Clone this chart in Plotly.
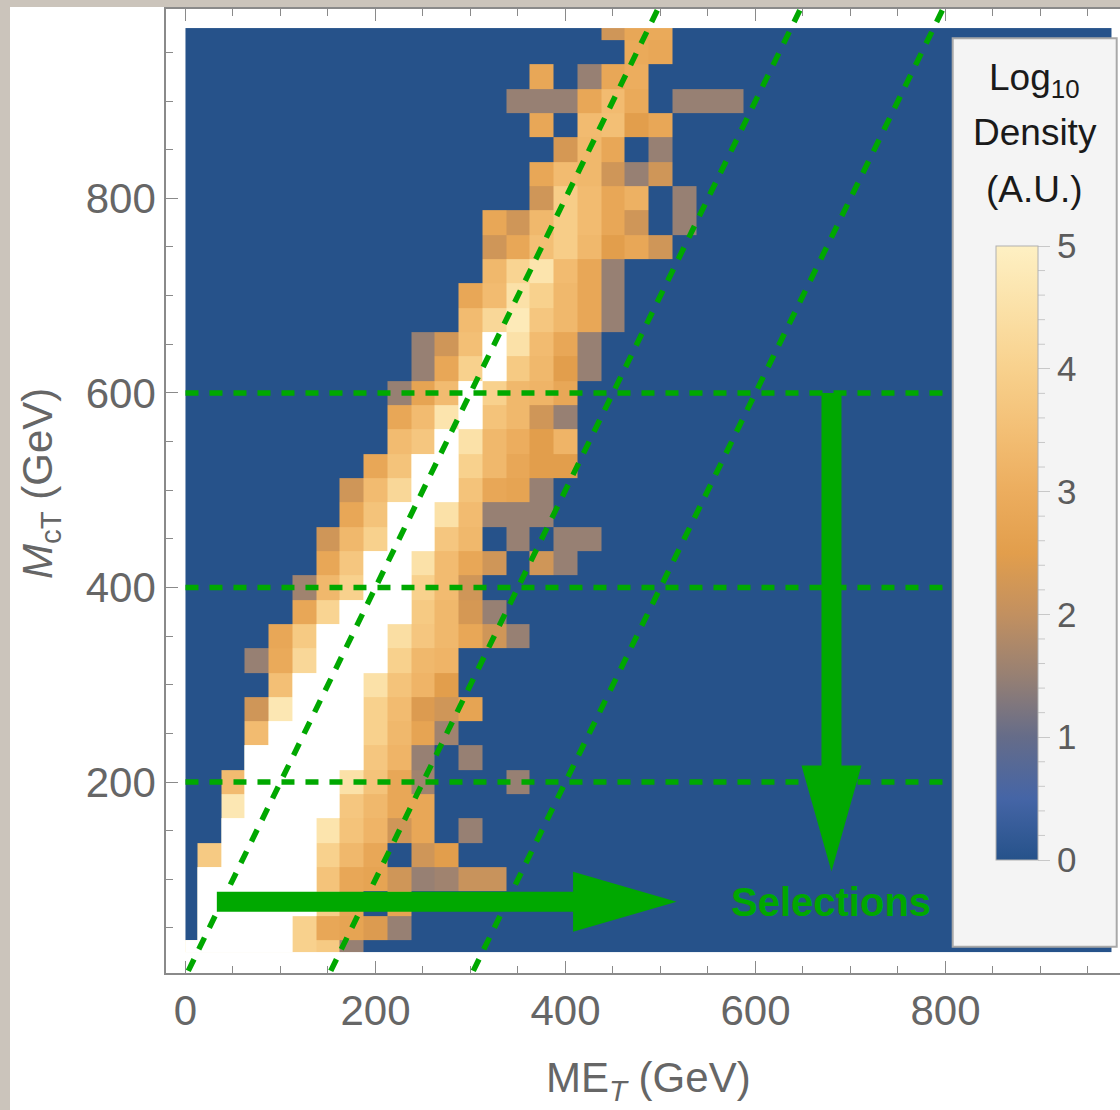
import plotly.graph_objects as go

# ---------------- data ----------------
BIN_WIDTH = 25
MET_BIN_CENTERS = list(range(0, 1000, BIN_WIDTH))    # 0 ... 975 GeV
MCT_BIN_CENTERS = list(range(25, 1000, BIN_WIDTH))   # 25 ... 975 GeV

SATURATED = 5.5  # log10 density above the colour scale (drawn white)
S = SATURATED

# first MET bin index of each MCT row (rows ordered from MCT=25 upward)
ROW_FIRST_BIN = [0, 1, 1, 1, 1, 2, 2, 2, 3, 3,
                 3, 4, 3, 4, 5, 5, 6, 6, 7, 7,
                 8, 9, 9, 9, 10, 10, 12, 12, 13, 13,
                 13, 15, 15, 16, 15, 14, 15, 19, 18]

ROW_LOG_DENSITY = [
    [S, S, S, S, S, 4.0, 3.8, 1.5],                                 # 25
    [S, S, S, S, 4.0, 2.8, 2.7, 2.4, 1.5],                          # 50
    [S, S, S, S, S, 3.9, 2.8, 0, 2.7],                              # 75
    [S, S, S, S, S, 3.6, 2.8, 2.7, 2.2, 1.5, 1.6, 2.1, 2.1],        # 100
    [3.8, S, S, S, S, 4.0, 3.3, 2.8, 0, 2.2, 2.5],                  # 125
    [S, S, S, S, 4.6, 3.6, 3.2, 2.2, 2.8, 0, 1.5],                  # 150
    [4.7, S, S, S, S, 3.7, 3.3, 2.8, 2.8],                          # 175
    [3.4, S, S, S, S, 4.5, 3.6, 2.8, 1.6, 0, 0, 0, 1.5],            # 200
    [S, S, S, S, S, 3.7, 3.2, 1.5, 0, 1.5],                         # 225
    [3.4, S, S, S, S, 4.0, 3.3, 2.7, 1.6],                          # 250
    [2.2, 4.7, S, S, S, 4.0, 3.4, 2.4, 2.2, 2.7],                   # 275
    [3.5, S, S, S, 4.5, 3.6, 3.2, 2.5],                             # 300
    [1.5, 2.9, 4.2, S, S, S, 4.0, 3.3, 3.2],                        # 325
    [2.8, 3.8, S, S, S, 4.4, 3.7, 3.3, 2.8, 2.2, 1.5],              # 350
    [2.8, 4.1, S, S, S, 3.8, 3.3, 2.3, 1.5],                        # 375
    [1.6, 3.3, 4.0, S, S, 4.0, 3.4, 2.2],                           # 400
    [2.8, 3.7, S, S, 4.5, 3.4, 2.8, 2.2, 0, 2.2, 1.5],              # 425
    [2.2, 3.3, 4.0, S, S, 3.7, 3.3, 0, 1.5, 0, 1.5, 1.5],           # 450
    [2.8, 3.6, S, S, 4.5, 3.4, 1.5, 1.5, 1.5],                      # 475
    [2.2, 3.4, 4.2, S, S, 3.6, 2.8, 2.7, 1.5],                      # 500
    [2.8, 3.6, S, S, 4.0, 3.3, 2.8, 2.5, 2.5],                      # 525
    [3.4, 3.7, S, 4.5, 3.3, 3.0, 2.5, 3.2],                         # 550
    [2.8, 3.4, 4.6, S, 3.6, 3.3, 2.2, 1.5],                         # 575
    [1.5, 2.7, 3.4, S, 4.0, 3.3, 3.2, 2.8],                         # 600
    [1.5, 2.8, 4.0, S, 3.8, 3.3, 2.5, 1.5],                         # 625
    [1.5, 2.2, 3.5, S, 4.5, 3.4, 2.8, 1.5],                         # 650
    [3.4, 4.2, 4.8, 3.7, 3.3, 2.8, 1.5],                            # 675
    [2.8, 3.4, 4.5, 4.0, 3.3, 2.8, 1.5],                            # 700
    [3.3, 4.1, 4.6, 3.4, 2.8, 1.5],                                 # 725
    [2.2, 2.8, 3.5, 3.9, 3.3, 2.5, 2.8, 2.2],                       # 750
    [2.8, 2.2, 3.3, 3.9, 3.4, 2.8, 2.2, 0, 1.5],                    # 775
    [2.2, 3.9, 3.4, 2.8, 3.1, 0, 1.5],                              # 800
    [2.8, 3.4, 3.3, 2.2, 1.5, 2.2],                                 # 825
    [2.3, 3.3, 2.8, 0, 1.5],                                        # 850
    [2.8, 0, 3.4, 3.5, 2.5, 2.8],                                   # 875
    [1.5, 1.5, 1.5, 2.8, 3.4, 2.9, 0, 1.5, 1.5, 1.5],               # 900
    [2.8, 0, 1.5, 2.8, 3.0],                                        # 925
    [2.9, 2.8],                                                     # 950
    [2.2, 2.8, 2.9],                                                # 975
]

# selection cuts
MCT_CUTS = [200, 400, 600]            # horizontal cuts on M_cT
DIAG_SLOPE = 2.0                      # M_cT = 2 (MET - offset)
DIAG_OFFSETS = [0, 150, 300]

COLORBAR_TICKS = [0, 1, 2, 3, 4, 5]
Z_MIN, Z_MAX = 0, 5

# ---------------- styling / layout constants ----------------
W, H = 1120, 1110
M_L, M_R, M_T, M_B = 166, 0, 9, 137
X_RANGE = [-20.5, 983.7]
Y_RANGE = [3.7, 994.6]
PLOT_W = W - M_L - M_R
PLOT_H = H - M_T - M_B
PX_PER_X = PLOT_W / (X_RANGE[1] - X_RANGE[0])
PX_PER_Y = PLOT_H / (Y_RANGE[1] - Y_RANGE[0])

GREEN = "#00a800"
AXIS_GREY = "#8a8a8a"
LABEL_GREY = "#666666"
FONT = "Liberation Sans, Arial, Helvetica, sans-serif"

COLORSCALE = [
    [0.0, "#26528a"],
    [0.1, "#4565a6"],
    [0.2, "#656c89"],
    [0.3, "#978073"],
    [0.4, "#c29060"],
    [0.5, "#e29e4c"],
    [0.6, "#ecad5e"],
    [0.7, "#f3bf75"],
    [0.8, "#f8d18d"],
    [0.9, "#fbe1a8"],
    [1.0, "#fef0c3"],
]


def px_x(px):
    return (px - M_L) / PLOT_W


def px_y(py):
    return (H - M_B - py) / PLOT_H


def edges(centers):
    mids = [(a + b) / 2 for a, b in zip(centers[:-1], centers[1:])]
    return [centers[0]] + mids + [centers[-1]]


# ---------------- build matrix ----------------
n_rows, n_cols = len(MCT_BIN_CENTERS), len(MET_BIN_CENTERS)
z = [[0.0] * n_cols for _ in range(n_rows)]
for r, (first, vals) in enumerate(zip(ROW_FIRST_BIN, ROW_LOG_DENSITY)):
    for k, v in enumerate(vals):
        z[r][first + k] = v
z_main = [[min(v, Z_MAX) for v in row] for row in z]
z_sat = [[1 if v > Z_MAX else None for v in row] for row in z]

x_edges = edges(MET_BIN_CENTERS)
y_edges = edges(MCT_BIN_CENTERS)

fig = go.Figure()

CB_LEFT_PX, CB_TOP_PX, CB_BOTTOM_PX, CB_THICK = 996, 246, 860, 42

fig.add_trace(go.Heatmap(
    x=x_edges, y=y_edges, z=z_main, zmin=Z_MIN, zmax=Z_MAX,
    colorscale=COLORSCALE, hoverinfo="skip",
    colorbar=dict(
        x=px_x(CB_LEFT_PX), xanchor="left", xpad=0,
        y=px_y((CB_TOP_PX + CB_BOTTOM_PX) / 2), yanchor="middle", ypad=0,
        len=CB_BOTTOM_PX - CB_TOP_PX, lenmode="pixels",
        thickness=CB_THICK, thicknessmode="pixels",
        outlinewidth=1, outlinecolor="#b0b0b0",
        tickvals=COLORBAR_TICKS, ticks="outside", ticklen=12,
        tickcolor="#c8c8c8", tickwidth=1,
        tickfont=dict(family=FONT, size=35, color="#5c5c5c"),
        bgcolor="rgba(0,0,0,0)", borderwidth=0,
    ),
))
fig.add_trace(go.Heatmap(
    x=x_edges, y=y_edges, z=z_sat, zmin=0, zmax=1,
    colorscale=[[0, "#ffffff"], [1, "#ffffff"]], showscale=False,
    hoverinfo="skip",
))

DASH = "13px,11px"
LINE_W = 5.5
for c in MCT_CUTS:
    fig.add_trace(go.Scatter(
        x=[0, X_RANGE[1]], y=[c, c], mode="lines",
        line=dict(color=GREEN, width=LINE_W, dash=DASH),
        showlegend=False, hoverinfo="skip"))
for off in DIAG_OFFSETS:
    ys = [Y_RANGE[0] - 20, Y_RANGE[1] + 20]
    xs = [off + y / DIAG_SLOPE for y in ys]
    fig.add_trace(go.Scatter(
        x=xs, y=ys, mode="lines",
        line=dict(color=GREEN, width=LINE_W, dash=DASH),
        showlegend=False, hoverinfo="skip"))

# ---------------- arrows (shapes) ----------------
SHAFT_HALF_PX, HEAD_HALF_PX = 10, 30
H_ARROW = dict(x0=33, x_head=408, x_tip=517, y=77)
V_ARROW = dict(x=680, y0=600, y_head=217, y_tip=108)

sy = SHAFT_HALF_PX / PX_PER_Y
hy = HEAD_HALF_PX / PX_PER_Y
a = H_ARROW
h_path = (f"M {a['x0']},{a['y']-sy} L {a['x_head']},{a['y']-sy} L {a['x_head']},{a['y']-hy} "
          f"L {a['x_tip']},{a['y']} L {a['x_head']},{a['y']+hy} L {a['x_head']},{a['y']+sy} "
          f"L {a['x0']},{a['y']+sy} Z")
sx = SHAFT_HALF_PX / PX_PER_X
hx = HEAD_HALF_PX / PX_PER_X
b = V_ARROW
v_path = (f"M {b['x']-sx},{b['y0']} L {b['x']-sx},{b['y_head']} L {b['x']-hx},{b['y_head']} "
          f"L {b['x']},{b['y_tip']} L {b['x']+hx},{b['y_head']} L {b['x']+sx},{b['y_head']} "
          f"L {b['x']+sx},{b['y0']} Z")

shapes = [
    dict(type="path", path=h_path, xref="x", yref="y", fillcolor=GREEN,
         line=dict(width=0), layer="above"),
    dict(type="path", path=v_path, xref="x", yref="y", fillcolor=GREEN,
         line=dict(width=0), layer="above"),
    # legend box
    dict(type="rect", xref="paper", yref="paper",
         x0=px_x(952.7), x1=px_x(1116.7), y0=px_y(946.7), y1=px_y(38.3),
         fillcolor="#f4f4f4", line=dict(color="#a8a8a8", width=2), layer="above"),
    # page border strips
    dict(type="rect", xref="paper", yref="paper",
         x0=px_x(0), x1=px_x(10), y0=px_y(H), y1=px_y(0),
         fillcolor="#cbc4bb", line=dict(width=0), layer="above"),
    dict(type="rect", xref="paper", yref="paper",
         x0=px_x(0), x1=px_x(W), y0=px_y(7), y1=px_y(0),
         fillcolor="#cbc4bb", line=dict(width=0), layer="above"),
]
# colorbar minor ticks
cb_right = CB_LEFT_PX + CB_THICK
for i in range(int(Z_MAX * 5) + 1):
    v = i / 5
    if abs(v - round(v)) < 1e-9:
        continue
    py = CB_BOTTOM_PX - (v - Z_MIN) / (Z_MAX - Z_MIN) * (CB_BOTTOM_PX - CB_TOP_PX)
    shapes.append(dict(type="line", xref="paper", yref="paper",
                       x0=px_x(cb_right), x1=px_x(cb_right + 7), y0=px_y(py), y1=px_y(py),
                       line=dict(color="#c8c8c8", width=1), layer="above"))


def ann(xp, yp, text, size, color, **kw):
    return dict(x=px_x(xp), y=px_y(yp), xref="paper", yref="paper", showarrow=False,
                xanchor="center", yanchor="middle", text=text,
                font=dict(family=FONT, size=size, color=color), **kw)


annotations = [
    dict(x=V_ARROW["x"], y=H_ARROW["y"], xref="x", yref="y", showarrow=False,
         xanchor="center", yanchor="middle",
         text="<b>Selections</b>", font=dict(family=FONT, size=40, color=GREEN)),
    ann(1034.7, 80, "Log<sub>10</sub>", 37, "#1a1a1a"),
    ann(1034.7, 132, "Density", 37, "#1a1a1a"),
    ann(1034.7, 189, "(A.U.)", 37, "#1a1a1a"),
    ann(648, 1080, "ME<sub><i>T</i></sub> (GeV)", 42, LABEL_GREY),
    ann(40, 484, "<i>M</i><sub>cT</sub> (GeV)", 42, LABEL_GREY, textangle=-90),
]

axis_common = dict(
    showgrid=False, zeroline=False, showline=True, linecolor=AXIS_GREY, linewidth=1.5,
    ticks="inside", ticklen=12, tickwidth=1.3, tickcolor=AXIS_GREY,
    tick0=0, dtick=200,
    minor=dict(ticks="inside", ticklen=7, dtick=50, tickcolor=AXIS_GREY, tickwidth=1.2),
    tickfont=dict(family=FONT, size=42, color=LABEL_GREY),
    ticklabelstandoff=0,
)

fig.update_layout(
    width=W, height=H, autosize=False,
    margin=dict(l=M_L, r=M_R, t=M_T, b=M_B, pad=0),
    paper_bgcolor="white", plot_bgcolor="white",
    showlegend=False,
    xaxis=dict(range=X_RANGE, mirror="ticks", **axis_common),
    yaxis=dict(range=Y_RANGE, mirror=False, **axis_common),
    shapes=shapes, annotations=annotations,
)

fig.write_html("out.html")
